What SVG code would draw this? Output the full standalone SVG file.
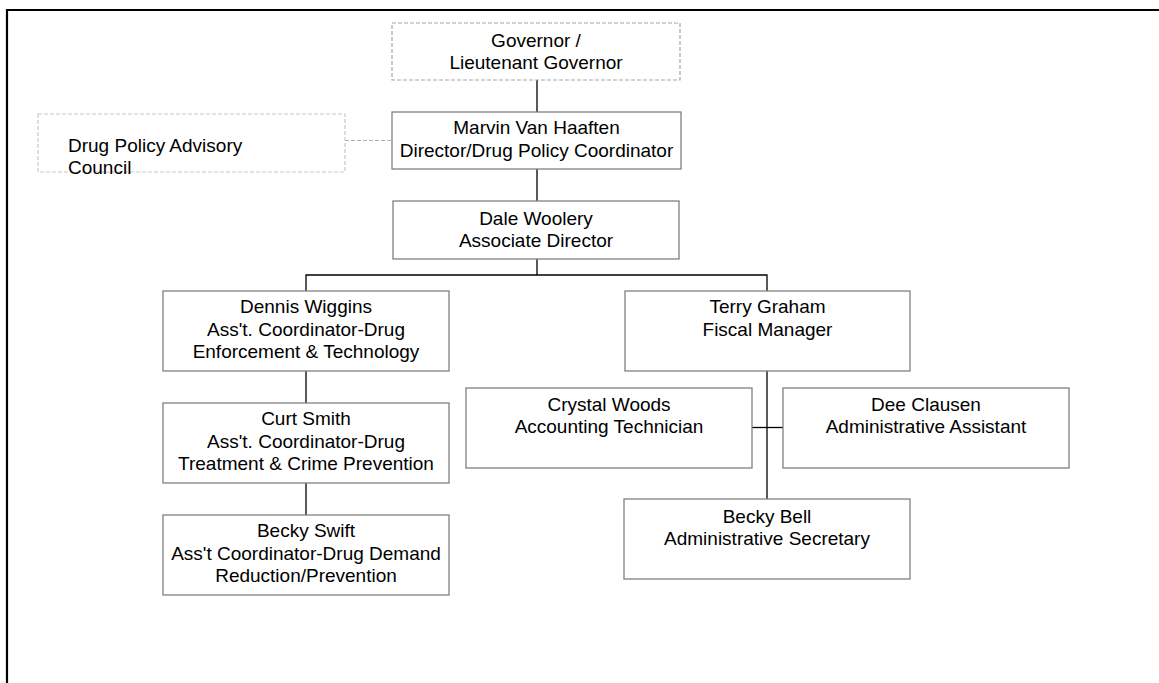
<svg xmlns="http://www.w3.org/2000/svg" width="1159" height="683" viewBox="0 0 1159 683">
<style>
.box{fill:#fff;stroke:#808080;stroke-width:1.3}
.dash{fill:#fff;stroke:#a6a6a6;stroke-width:1.2;stroke-dasharray:4 2}
.dash2{fill:none;stroke:#c8c8c8;stroke-width:1.2;stroke-dasharray:4 2}
.t{font-family:"Liberation Sans",Arial,sans-serif;font-size:19px;fill:#000;text-anchor:middle}
.tl{font-family:"Liberation Sans",Arial,sans-serif;font-size:19px;fill:#000}
.c{stroke:#000;stroke-width:1.3;fill:none}
</style>
<rect width="1159" height="683" fill="#fff"/>
<path d="M7 683 V10 H1159" fill="none" stroke="#000" stroke-width="2.2"/>
<g id="connectors">
<path class="c" d="M537 80 V112"/>
<path class="c" d="M537 169 V201"/>
<path class="c" d="M537 259 V275"/>
<path class="c" d="M306 291 V275 H767 V291"/>
<path class="c" d="M306 371 V403"/>
<path class="c" d="M306 483 V515"/>
<path class="c" d="M767 371 V499"/>
<path class="c" d="M752 427.5 H783"/>
<path d="M345 140.5 H392" fill="none" stroke="#b0b0b0" stroke-width="1.2" stroke-dasharray="4 2"/>
</g>
<g id="governor">
<rect class="dash" x="392" y="23" width="288" height="57"/>
<text class="t" x="536" y="46.5">Governor /</text>
<text class="t" x="536" y="69">Lieutenant Governor</text>
</g>
<g id="advisory">
<rect class="dash2" x="38" y="114" width="307" height="58"/>
<text class="tl" x="68" y="151.5">Drug Policy Advisory</text>
<text class="tl" x="68" y="173.5">Council</text>
</g>
<g id="marvin">
<rect class="box" x="392" y="112" width="289" height="57"/>
<text class="t" x="536.5" y="134.3">Marvin Van Haaften</text>
<text class="t" x="536.5" y="156.7">Director/Drug Policy Coordinator</text>
</g>
<g id="dale">
<rect class="box" x="393" y="201" width="286" height="58"/>
<text class="t" x="536" y="225">Dale Woolery</text>
<text class="t" x="536" y="246.7">Associate Director</text>
</g>
<g id="dennis">
<rect class="box" x="163" y="291" width="286" height="80"/>
<text class="t" x="306" y="313.3">Dennis Wiggins</text>
<text class="t" x="306" y="336">Ass't. Coordinator-Drug</text>
<text class="t" x="306" y="358.3">Enforcement &amp; Technology</text>
</g>
<g id="curt">
<rect class="box" x="163" y="403" width="286" height="80"/>
<text class="t" x="306" y="425.3">Curt Smith</text>
<text class="t" x="306" y="448">Ass't. Coordinator-Drug</text>
<text class="t" x="306" y="470.3">Treatment &amp; Crime Prevention</text>
</g>
<g id="beckyswift">
<rect class="box" x="163" y="515" width="286" height="80"/>
<text class="t" x="306" y="537.3">Becky Swift</text>
<text class="t" x="306" y="560">Ass't Coordinator-Drug Demand</text>
<text class="t" x="306" y="582.3">Reduction/Prevention</text>
</g>
<g id="terry">
<rect class="box" x="625" y="291" width="285" height="80"/>
<text class="t" x="767.5" y="313.3">Terry Graham</text>
<text class="t" x="767.5" y="336">Fiscal Manager</text>
</g>
<g id="crystal">
<rect class="box" x="466" y="388" width="286" height="80"/>
<text class="t" x="609" y="410.7">Crystal Woods</text>
<text class="t" x="609" y="433.3">Accounting Technician</text>
</g>
<g id="dee">
<rect class="box" x="783" y="388" width="286" height="80"/>
<text class="t" x="926" y="410.7">Dee Clausen</text>
<text class="t" x="926" y="433.3">Administrative Assistant</text>
</g>
<g id="beckybell">
<rect class="box" x="624" y="499" width="286" height="80"/>
<text class="t" x="767" y="523">Becky Bell</text>
<text class="t" x="767" y="545">Administrative Secretary</text>
</g>
</svg>
